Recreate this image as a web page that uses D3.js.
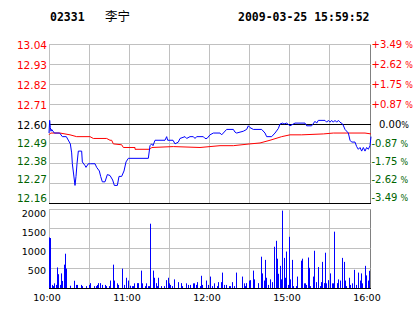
<!DOCTYPE html>
<html>
<head>
<meta charset="utf-8">
<script src="https://cdn.jsdelivr.net/npm/d3@7"></script>
<style>
  body { margin: 0; background: #fff; }
  svg { display: block; }
</style>
</head>
<body>
<div id="chart"></div>
<script>
const stockCode = "02331";
const stockName = "李宁";
const stamp = "2009-03-25 15:59:52";

const prevClose = 12.60;
const priceTicks = [13.04, 12.93, 12.82, 12.71, 12.60, 12.49, 12.38, 12.27, 12.16];
const pctLabels = ["+3.49 ", "+2.62 ", "+1.75 ", "+0.87 ", "0.00", "-0.87 ", "-1.75 ", "-2.62 ", "-3.49 "];
const volTicks = [2000, 1500, 1000, 500];
const timeTicks = [0, 60, 120, 180, 240];
const timeLabels = ["10:00", "11:00", "12:00", "15:00", "16:00"];

// minutes since 10:00 (trading minutes), price
const priceLine = [
  [0, 12.55], [0.5, 12.62], [1, 12.58], [1.5, 12.56], [2, 12.57], [4, 12.55], [8, 12.55],
  [10, 12.53], [13, 12.53], [16, 12.49], [17, 12.44], [17.5, 12.38], [19.5, 12.26],
  [20.25, 12.31], [21, 12.38], [22, 12.45], [24.5, 12.45], [25, 12.39], [27, 12.37],
  [27.75, 12.36], [29.5, 12.38], [31, 12.38], [34.5, 12.38], [35.75, 12.36], [37.75, 12.34],
  [38.75, 12.31], [40, 12.28], [42, 12.28], [43.75, 12.32], [45.75, 12.315], [47.75, 12.29],
  [49, 12.26], [51.25, 12.26], [52.5, 12.31], [54.5, 12.31], [56.25, 12.34], [57.75, 12.39],
  [59.5, 12.41], [74.5, 12.41], [75.75, 12.48], [77, 12.49], [78, 12.48], [79.5, 12.51],
  [87, 12.51], [88.25, 12.53], [89, 12.51], [93, 12.51], [94.5, 12.49], [97, 12.50],
  [98.25, 12.52], [102, 12.53], [103.25, 12.52], [105.75, 12.53], [108.25, 12.53],
  [109.5, 12.52], [110.75, 12.53], [115.75, 12.53], [117, 12.52], [118.5, 12.52],
  [120.75, 12.54], [123.25, 12.55], [128.25, 12.55], [129.5, 12.54], [133.25, 12.57],
  [138.25, 12.57], [139.5, 12.555], [140.75, 12.55], [145.75, 12.56], [148.25, 12.57],
  [149.5, 12.59], [150.75, 12.58], [153.25, 12.57], [159.5, 12.57], [162, 12.55],
  [163.25, 12.53], [167, 12.53], [169.5, 12.55], [172, 12.575], [173.25, 12.60],
  [175.25, 12.605], [176.25, 12.60], [178.25, 12.605], [180.75, 12.59], [184.5, 12.605],
  [192, 12.605], [193.25, 12.59], [197, 12.59], [199.5, 12.615], [200.75, 12.605],
  [202, 12.62], [207, 12.62], [208.25, 12.61], [209.5, 12.62], [210.75, 12.61], [212, 12.62],
  [213.25, 12.61], [214.5, 12.62], [215.75, 12.61], [217, 12.62], [218.25, 12.61],
  [220.25, 12.60], [222, 12.57], [224.5, 12.55], [225.75, 12.51], [227, 12.50], [229.5, 12.50],
  [230.75, 12.475], [232, 12.46], [233.25, 12.47], [234.5, 12.45], [235.75, 12.47],
  [237, 12.45], [238.25, 12.47], [239.5, 12.46], [240.75, 12.48], [241.5, 12.53]
];

const avgLine = [
  [0, 12.54], [1.25, 12.55], [8.25, 12.55], [15.75, 12.54], [20.75, 12.53], [30.75, 12.53],
  [33.25, 12.52], [43.25, 12.52], [45.75, 12.51], [47, 12.51], [48.25, 12.49], [54.5, 12.485],
  [55.75, 12.47], [64.5, 12.47], [64.5, 12.46], [75.75, 12.46], [77, 12.47], [93.25, 12.475],
  [113.25, 12.47], [128.25, 12.48], [138.25, 12.48], [150.75, 12.49], [158.25, 12.495],
  [165.75, 12.51], [174.5, 12.53], [180.75, 12.54], [189.5, 12.54], [205.75, 12.545],
  [213.25, 12.55], [237, 12.55], [241.5, 12.545]
];

const volMinutes = [
  0, 1, 2, 3, 4, 5, 6, 7, 8, 9, 10, 11, 12, 13, 16, 19, 20, 21, 24, 25, 28, 30, 31, 34, 35, 36,
  37, 38, 40, 42, 43, 45, 46, 48, 49, 51, 52, 55, 56, 58, 59, 61, 62, 63, 64, 66, 67, 69, 70,
  72, 73, 74, 75, 76, 78, 79, 80, 81, 82, 84, 86, 88, 89, 90, 91, 92, 94, 97, 99, 100, 103,
  104, 106, 108, 109, 110, 111, 113, 114, 115, 118, 119, 121, 122, 124, 126, 127, 129, 130,
  131, 133, 135, 136, 137, 139, 140, 145, 146, 147, 148, 150, 151, 153, 154, 157, 159, 160,
  161, 162, 163, 164, 166, 167, 169, 170, 171, 172, 173, 174, 175, 176, 177, 178, 179, 180,
  181, 182, 183, 185, 186, 189, 190, 191, 192, 193, 194, 195, 196, 198, 199, 200, 202, 203,
  204, 205, 206, 207, 208, 209, 211, 212, 213, 214, 216, 217, 218, 220, 221, 222, 223, 225,
  226, 227, 229, 230, 232, 233, 234, 235, 237, 238, 239, 240
];
const volValues = [
  1285, 1270, 90, 60, 130, 90, 530, 360, 90, 380, 190, 600, 875, 500, 70, 195, 90, 90, 90, 60,
  60, 90, 135, 60, 60, 90, 135, 135, 90, 90, 60, 60, 200, 600, 200, 130, 90, 500, 90, 270, 200,
  70, 60, 60, 130, 135, 135, 450, 130, 60, 130, 60, 60, 1630, 450, 270, 135, 60, 270, 60, 60,
  210, 270, 130, 90, 60, 230, 160, 135, 60, 130, 90, 90, 130, 130, 90, 160, 60, 320, 90, 200,
  90, 300, 60, 130, 60, 160, 160, 400, 90, 90, 60, 60, 160, 60, 400, 300, 130, 60, 135, 200,
  210, 450, 230, 135, 800, 380, 200, 720, 270, 90, 230, 160, 1050, 1200, 750, 370, 570, 230,
  1960, 770, 270, 930, 90, 1300, 230, 720, 60, 60, 300, 700, 750, 130, 130, 90, 780, 520, 60,
  300, 950, 160, 540, 60, 160, 670, 135, 900, 130, 210, 380, 130, 130, 1430, 135, 230, 200,
  770, 670, 200, 60, 270, 90, 130, 470, 90, 400, 200, 380, 130, 570, 330, 200, 445
];

const red = "#ff0000";
const green = "#006400";
const grid = "#c0c0c0";

const svg = d3.select("#chart").append("svg").attr("width", 414).attr("height", 314);
svg.append("rect").attr("width", 414).attr("height", 314).attr("fill", "#fff");

const x = d3.scaleLinear().domain([0, 240]).range([49, 369]);
const y = d3.scaleLinear().domain([12.16, 13.04]).range([203.5, 44.5]);
const yv = d3.scaleLinear().domain([0, 2000]).range([288.5, 209]);
// label rows are not exactly on the grid lines in the original
const yLabel = d3.scaleLinear().domain([12.16, prevClose, 13.04]).range([197.7, 124.7, 44.7]);
const yVolLabel = d3.scaleLinear().domain([500, 2000]).range([274, 217.3]);
const crisp = v => Math.floor(v) + 0.5;

function colorFor(p) {
  if (Math.abs(p - prevClose) < 1e-9) return "#000";
  return p > prevClose ? red : green;
}

// header
const head = svg.append("g").attr("font-family", "'DejaVu Sans Mono', monospace")
  .attr("font-weight", "bold").attr("font-size", "11.5px").attr("fill", "#000");
head.append("text").attr("x", 50).attr("y", 20.5).text(stockCode);
head.append("text").attr("x", 238).attr("y", 20.5).text(stamp);
svg.append("text").attr("x", 105).attr("y", 20.5)
  .attr("font-family", "'Noto Sans CJK SC'").attr("font-size", "12.5px")
  .text(stockName);

// vertical grid lines
const vMins = d3.range(0, 240, 30);
[[44.5, 203.5], [209, 288.5]].forEach(([t, b]) => {
  svg.append("g").selectAll("line").data(vMins).join("line")
    .attr("x1", d => crisp(x(d))).attr("x2", d => crisp(x(d)))
    .attr("y1", t).attr("y2", b)
    .attr("stroke", grid).attr("stroke-width", 1);
  svg.append("line").attr("x1", 370.5).attr("x2", 370.5).attr("y1", t).attr("y2", b)
    .attr("stroke", "#808080");
});

// price horizontal grid
svg.append("g").selectAll("line")
  .data(priceTicks.filter(p => p !== prevClose && p !== 12.16))
  .join("line")
  .attr("x1", 49).attr("x2", 370.5)
  .attr("y1", d => crisp(y(d))).attr("y2", d => crisp(y(d)))
  .attr("stroke", grid);
svg.append("line").attr("x1", 49).attr("x2", 371)
  .attr("y1", crisp(y(prevClose))).attr("y2", crisp(y(prevClose)))
  .attr("stroke", "#000");

// volume horizontal grid
svg.append("g").selectAll("line").data(volTicks).join("line")
  .attr("x1", 49).attr("x2", 370.5)
  .attr("y1", d => crisp(yv(d))).attr("y2", d => crisp(yv(d)))
  .attr("stroke", grid);

// volume bars
svg.append("g").selectAll("rect").data(volMinutes).join("rect")
  .attr("x", d => Math.round(x(d)))
  .attr("y", (d, i) => yv(volValues[i]))
  .attr("width", 1)
  .attr("height", (d, i) => yv(0) - yv(volValues[i]))
  .attr("fill", "#0000ff");

// lines
const line = d3.line().x(d => x(d[0])).y(d => y(d[1]));
svg.append("path").datum(avgLine).attr("d", line)
  .attr("fill", "none").attr("stroke", red).attr("stroke-width", 1);
svg.append("path").datum(priceLine).attr("d", line)
  .attr("fill", "none").attr("stroke", "#0000ff").attr("stroke-width", 1);

// bottom borders
svg.append("line").attr("x1", 49).attr("x2", 371)
  .attr("y1", crisp(y(12.16))).attr("y2", crisp(y(12.16))).attr("stroke", "#000");
svg.append("line").attr("x1", 49).attr("x2", 371)
  .attr("y1", 288.5).attr("y2", 288.5).attr("stroke", "#000");

// price labels
const lab = svg.append("g").attr("font-family", "'DejaVu Sans', sans-serif");
lab.selectAll("text.p").data(priceTicks).join("text")
  .attr("class", "p")
  .attr("x", 47).attr("y", d => yLabel(d) + 3.8)
  .attr("text-anchor", "end").attr("font-size", "10.5px")
  .attr("fill", d => colorFor(d))
  .text(d => d.toFixed(2));

// percent labels on the right, the % sign is smaller in the original
const pct = lab.selectAll("text.c").data(pctLabels).join("text")
  .attr("class", "c")
  .attr("x", (d, i) => i === 4 ? 379 : 371.5)
  .attr("y", (d, i) => yLabel(priceTicks[i]) + 3.6)
  .attr("font-size", "10px")
  .attr("xml:space", "preserve")
  .style("white-space", "pre")
  .attr("fill", (d, i) => colorFor(priceTicks[i]));
pct.append("tspan").text(d => d);
pct.append("tspan").attr("font-size", "8px").text("%");

// volume labels
lab.selectAll("text.v").data(volTicks).join("text")
  .attr("class", "v")
  .attr("x", 46).attr("y", d => yVolLabel(d))
  .attr("text-anchor", "end").attr("font-size", "9.5px").attr("fill", "#000")
  .text(d => d);

// time labels
lab.selectAll("text.t").data(timeTicks).join("text")
  .attr("class", "t")
  .attr("x", d => x(d) - 2).attr("y", 301)
  .attr("text-anchor", "middle").attr("font-size", "9.5px").attr("fill", "#000")
  .text((d, i) => timeLabels[i]);
</script>
</body>
</html>
